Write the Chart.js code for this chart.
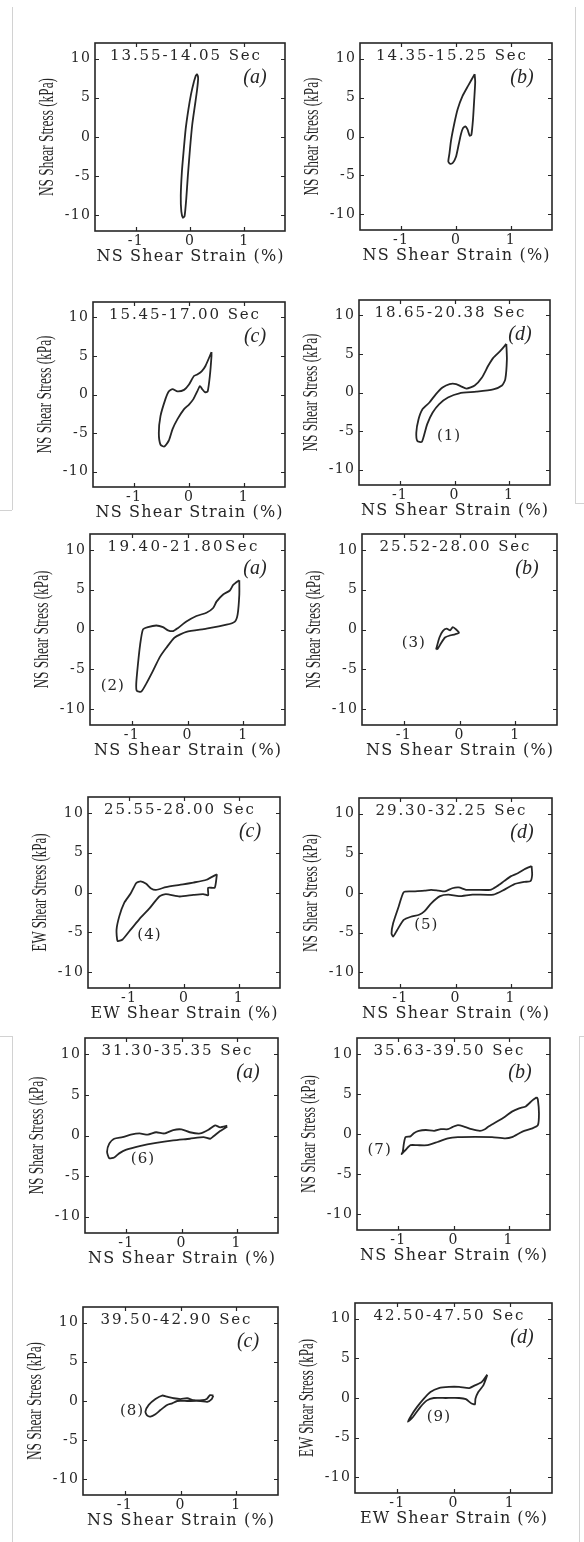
<!DOCTYPE html>
<html><head><meta charset="utf-8">
<script src="https://cdn.jsdelivr.net/npm/chart.js@4.4.1/dist/chart.umd.min.js"></script>
<style>
html,body{margin:0;padding:0;background:#fff;}
#page{position:relative;width:584px;height:1542px;overflow:hidden;background:#fff;}
.rule{position:absolute;background:#d2d2d2;}
</style></head><body><div id="page"></div>
<script>
// ---------------- data (strain %, stress kPa) ----------------
const strain1 = [0.11, 0.07, 0.02, -0.03, -0.08, -0.12, -0.15, -0.17, -0.16, -0.13, -0.10, -0.07, -0.04, 0.00, 0.04, 0.09, 0.13, 0.15, 0.13, 0.11];
const stress1 = [7.9, 7.0, 5.5, 3.5, 1.0, -2.0, -4.5, -7.5, -9.5, -10.3, -10.1, -8.0, -5.0, -1.5, 1.5, 4.0, 6.0, 7.5, 8.0, 7.9];
const strain2 = [0.34, 0.22, 0.12, 0.03, -0.03, -0.09, -0.12, -0.14, -0.11, -0.06, 0.00, 0.05, 0.09, 0.13, 0.17, 0.21, 0.25, 0.28, 0.31, 0.33, 0.35, 0.34];
const stress2 = [8.0, 6.5, 5.2, 3.5, 1.7, -0.5, -2.2, -3.2, -3.5, -3.4, -2.6, -1.0, 0.3, 1.1, 1.3, 0.9, 0.1, 0.2, 2.2, 4.5, 7.0, 8.0];
const strain3 = [0.41, 0.30, 0.23, 0.15, 0.09, 0.00, -0.09, -0.21, -0.30, -0.37, -0.43, -0.52, -0.55, -0.52, -0.45, -0.37, -0.30, -0.21, -0.09, 0.00, 0.08, 0.15, 0.20, 0.24, 0.29, 0.34, 0.38, 0.41, 0.41];
const stress3 = [5.5, 3.7, 3.0, 2.6, 2.4, 1.3, 0.6, 0.4, 0.7, 0.4, -0.6, -2.8, -5.0, -6.5, -6.75, -6.0, -4.5, -3.2, -1.9, -1.3, -0.6, 0.4, 1.1, 0.7, 0.3, 0.4, 2.4, 5.0, 5.5];
const strain4 = [0.95, 0.84, 0.71, 0.62, 0.50, 0.37, 0.22, 0.12, 0.03, -0.09, -0.22, -0.34, -0.46, -0.59, -0.66, -0.70, -0.68, -0.60, -0.56, -0.50, -0.40, -0.28, -0.12, 0.09, 0.40, 0.71, 0.87, 0.93, 0.96, 0.95];
const stress4 = [6.3, 5.4, 4.5, 3.5, 1.9, 0.9, 0.5, 0.8, 1.1, 1.1, 0.65, -0.2, -1.3, -2.2, -3.5, -5.2, -6.3, -6.4, -5.6, -4.1, -2.6, -1.5, -0.65, -0.1, 0.1, 0.4, 0.9, 1.7, 4.3, 6.3];
const strain5 = [0.93, 0.82, 0.76, 0.64, 0.52, 0.46, 0.34, 0.16, -0.02, -0.17, -0.26, -0.35, -0.44, -0.56, -0.71, -0.80, -0.85, -0.89, -0.92, -0.91, -0.83, -0.74, -0.62, -0.50, -0.38, -0.23, -0.02, 0.34, 0.70, 0.85, 0.90, 0.93, 0.93];
const stress5 = [6.2, 5.6, 4.9, 4.4, 3.5, 2.7, 2.1, 1.7, 1.0, 0.2, -0.2, -0.1, 0.3, 0.5, 0.3, 0.0, -1.9, -4.4, -6.8, -7.7, -7.8, -6.8, -5.2, -3.5, -2.3, -1.0, -0.3, 0.1, 0.6, 1.0, 1.9, 4.4, 6.2];
const strain6 = [-0.42, -0.36, -0.30, -0.23, -0.17, -0.12, -0.06, -0.01, -0.08, -0.17, -0.26, -0.33, -0.39, -0.42];
const stress6 = [-2.5, -1.0, -0.2, 0.1, -0.1, 0.3, 0.0, -0.4, -0.6, -0.75, -1.0, -1.7, -2.4, -2.5];
const strain7 = [0.60, 0.41, 0.17, -0.08, -0.33, -0.51, -0.60, -0.69, -0.79, -0.87, -0.97, -1.09, -1.18, -1.23, -1.21, -1.12, -1.00, -0.82, -0.63, -0.45, -0.33, -0.08, 0.17, 0.35, 0.44, 0.44, 0.56, 0.60];
const stress7 = [2.3, 1.6, 1.25, 0.96, 0.67, 0.33, 0.5, 1.1, 1.4, 1.2, -0.1, -1.3, -3.0, -4.7, -6.1, -5.9, -4.9, -3.4, -2.0, -0.5, -0.2, -0.5, -0.3, -0.2, -0.35, 0.6, 0.6, 2.3];
const strain8 = [1.38, 1.25, 1.13, 1.00, 0.88, 0.75, 0.63, 0.38, 0.19, 0.06, -0.06, -0.19, -0.31, -0.44, -0.56, -0.81, -0.94, -1.03, -1.13, -1.16, -1.13, -1.06, -0.94, -0.81, -0.66, -0.56, -0.44, -0.28, -0.13, 0.06, 0.31, 0.69, 0.88, 1.06, 1.25, 1.36, 1.39, 1.38];
const stress8 = [3.4, 3.0, 2.5, 2.1, 1.5, 0.85, 0.4, 0.4, 0.4, 0.7, 0.6, 0.2, 0.3, 0.4, 0.3, 0.2, 0.1, -1.7, -3.8, -5.1, -5.5, -4.7, -3.4, -3.0, -2.75, -2.3, -1.3, -0.4, -0.2, -0.4, -0.2, -0.2, 0.4, 1.1, 1.4, 1.5, 2.3, 3.4];
const strain9 = [0.83, 0.70, 0.61, 0.49, 0.34, 0.15, 0.00, -0.15, -0.31, -0.46, -0.61, -0.76, -0.92, -1.07, -1.22, -1.31, -1.35, -1.31, -1.22, -1.13, -1.00, -0.76, -0.46, -0.15, 0.15, 0.40, 0.52, 0.58, 0.70, 0.83];
const stress9 = [1.2, 1.0, 1.25, 0.7, 0.25, 0.4, 0.75, 0.67, 0.25, 0.4, 0.1, 0.25, 0.1, -0.2, -0.4, -1.0, -2.0, -2.8, -2.7, -2.2, -1.75, -1.3, -0.9, -0.6, -0.4, -0.2, -0.4, -0.1, 0.55, 1.1];
const strain10 = [1.51, 1.43, 1.31, 1.19, 1.06, 0.94, 0.79, 0.63, 0.57, 0.48, 0.33, 0.20, 0.08, -0.01, -0.10, -0.23, -0.35, -0.50, -0.63, -0.72, -0.78, -0.87, -0.90, -0.92, -0.94, -0.87, -0.78, -0.66, -0.47, -0.29, -0.10, 0.08, 0.39, 0.70, 0.94, 1.06, 1.25, 1.43, 1.53, 1.55, 1.53, 1.51];
const stress10 = [4.6, 4.2, 3.45, 3.2, 2.8, 2.2, 1.55, 0.9, 0.6, 0.4, 0.6, 0.9, 1.1, 0.9, 0.6, 0.6, 0.4, 0.5, 0.4, 0.1, -0.3, -0.4, -1.2, -2.2, -2.5, -2.0, -1.4, -1.4, -1.4, -1.0, -0.55, -0.4, -0.35, -0.4, -0.55, -0.4, 0.3, 0.7, 1.1, 2.6, 4.3, 4.6];
const strain11 = [0.59, 0.53, 0.47, 0.39, 0.24, 0.12, 0.00, -0.12, -0.24, -0.33, -0.45, -0.57, -0.63, -0.60, -0.54, -0.45, -0.36, -0.24, -0.15, -0.06, 0.12, 0.36, 0.48, 0.56, 0.59];
const stress11 = [0.7, 0.75, 0.25, 0.1, 0.1, 0.35, 0.25, 0.35, 0.55, 0.7, 0.25, -0.5, -1.35, -1.85, -2.0, -1.7, -1.15, -0.5, -0.3, 0.0, 0.0, 0.0, -0.1, 0.25, 0.7];
const strain12 = [0.60, 0.50, 0.38, 0.28, 0.10, -0.08, -0.26, -0.41, -0.53, -0.65, -0.75, -0.81, -0.72, -0.59, -0.47, -0.35, -0.14, 0.10, 0.22, 0.32, 0.38, 0.39, 0.44, 0.53, 0.60];
const stress12 = [2.95, 2.0, 1.6, 1.25, 1.4, 1.4, 1.25, 0.75, -0.1, -1.15, -2.2, -3.0, -2.4, -1.15, -0.3, 0.0, 0.0, 0.0, -0.15, -0.7, -0.8, -0.1, 0.75, 1.6, 2.9];

const periodTitles = ["13.55-14.05 Sec", "14.35-15.25 Sec", "15.45-17.00 Sec", "18.65-20.38 Sec",
  "19.40-21.80Sec", "25.52-28.00 Sec", "25.55-28.00 Sec", "29.30-32.25 Sec",
  "31.30-35.35 Sec", "35.63-39.50 Sec", "39.50-42.90 Sec", "42.50-47.50 Sec"];
const panelLetters = ["(a)", "(b)", "(c)", "(d)", "(a)", "(b)", "(c)", "(d)", "(a)", "(b)", "(c)", "(d)"];
const directions = ["NS", "NS", "NS", "NS", "NS", "NS", "EW", "NS", "NS", "NS", "NS", "EW"];
const eventLabels = [null, null, null, "(1)", "(2)", "(3)", "(4)", "(5)", "(6)", "(7)", "(8)", "(9)"];
const eventStrain = [0, 0, 0, -0.10, -1.34, -0.82, -0.63, -0.53, -0.70, -1.34, -0.87, -0.26];
const eventStress = [0, 0, 0, -5.7, -7.1, -1.66, -5.3, -4.1, -2.9, -2.0, -1.35, -2.4];
const xTickValues = [-1, 0, 1];
const yTickValues = [-10, -5, 0, 5, 10];

const strains = [strain1, strain2, strain3, strain4, strain5, strain6, strain7, strain8, strain9, strain10, strain11, strain12];
const stresses = [stress1, stress2, stress3, stress4, stress5, stress6, stress7, stress8, stress9, stress10, stress11, stress12];

// ---------------- layout ----------------
const boxes = [
  [95, 43, 285, 231], [360, 43, 552, 230],
  [93, 302, 285, 487], [359, 300, 550, 485],
  [90, 534, 285, 725], [362, 534, 557, 725],
  [88, 797, 280, 988], [359, 798, 552, 988],
  [85, 1038, 278, 1233], [357, 1038, 550, 1230],
  [83, 1307, 278, 1495], [355, 1303, 552, 1493]
];
const PAD_L = 62, PAD_T = 16, PAD_R = 8, PAD_B = 42;
const INK = '#262626', TXT = '#262626';
const page = document.getElementById('page');

[[12,7,1,503],[0,510,12,1],[575,7,1,496],[575,503,9,1],[12,1036,1,506],[0,1036,12,1],[579,1036,1,506],[579,1036,5,1]]
  .forEach(([l,t,w,h]) => { const d = document.createElement('div'); d.className = 'rule';
    d.style.cssText = `left:${l}px;top:${t}px;width:${w}px;height:${h}px`; page.appendChild(d); });

const canSpace = 'letterSpacing' in CanvasRenderingContext2D.prototype;
function spaced(ctx, text, cx, cy, font, target) {
  ctx.font = font;
  if (canSpace) ctx.letterSpacing = '0px';
  const w = ctx.measureText(text).width;
  if (canSpace) {
    const ls = Math.max(0, (target - w) / (text.length - 1));
    ctx.letterSpacing = ls.toFixed(2) + 'px';
    ctx.textAlign = 'left';
    ctx.fillText(text, cx - Math.max(target, w) / 2, cy);
  } else {
    ctx.textAlign = 'center';
    ctx.fillText(text, cx, cy);
  }
}

const panelDecor = {
  id: 'panelDecor',
  beforeDraw(chart) { if (canSpace) chart.ctx.letterSpacing = '1.2px'; },
  afterDraw(chart, args, opts) {
    const i = opts.index;
    const { ctx, chartArea: a, scales: { x, y } } = chart;
    ctx.save();
    ctx.strokeStyle = INK; ctx.lineWidth = 1.6;
    ctx.strokeRect(a.left, a.top, a.right - a.left, a.bottom - a.top);
    ctx.lineWidth = 1.2; ctx.beginPath();
    yTickValues.forEach(v => { const py = Math.round(y.getPixelForValue(v)) + 0.5;
      ctx.moveTo(a.left, py); ctx.lineTo(a.left + 4, py); ctx.moveTo(a.right, py); ctx.lineTo(a.right - 4, py); });
    xTickValues.forEach(v => { const px = Math.round(x.getPixelForValue(v)) + 0.5;
      ctx.moveTo(px, a.bottom); ctx.lineTo(px, a.bottom - 4); ctx.moveTo(px, a.top); ctx.lineTo(px, a.top + 4); });
    ctx.stroke();

    ctx.fillStyle = TXT; ctx.textBaseline = 'middle';
    const cx = (a.left + a.right) / 2;
    spaced(ctx, periodTitles[i], cx - 5, a.top + 13.5, "15px 'DejaVu Serif'", 150);
    if (canSpace) ctx.letterSpacing = '0px';
    ctx.font = "italic 20px 'Liberation Serif'"; ctx.textAlign = 'center';
    ctx.fillText(panelLetters[i], a.right - 30, a.top + 35);
    if (eventLabels[i]) {
      ctx.font = "15px 'DejaVu Serif'"; if (canSpace) ctx.letterSpacing = '1px';
      ctx.fillText(eventLabels[i], x.getPixelForValue(eventStrain[i]), y.getPixelForValue(eventStress[i]));
    }
    spaced(ctx, directions[i] + ' Shear Strain (%)', cx, a.bottom + 26, "16px 'DejaVu Serif'", 187);
    ctx.save();
    if (canSpace) ctx.letterSpacing = '0px';
    ctx.translate(a.left - 48, (a.top + a.bottom) / 2);
    ctx.rotate(-Math.PI / 2);
    const yt = directions[i] + ' Shear Stress (kPa)';
    ctx.font = "21px 'Liberation Serif'";
    const w = ctx.measureText(yt).width;
    ctx.scale(118 / w, 1);
    ctx.textAlign = 'center';
    ctx.fillText(yt, 0, 0);
    ctx.restore();
    ctx.restore();
  }
};

const tickFont = { family: "'DejaVu Serif', serif", size: 14 };
for (let i = 0; i < 12; i++) {
  const [l, t, r, b] = boxes[i];
  const w = r - l + PAD_L + PAD_R, h = b - t + PAD_T + PAD_B;
  const c = document.createElement('canvas');
  c.width = w; c.height = h;
  c.style.cssText = `position:absolute;left:${l - PAD_L}px;top:${t - PAD_T}px;width:${w}px;height:${h}px`;
  page.appendChild(c);
  const pts = strains[i].map((sx, j) => ({ x: sx, y: stresses[i][j] }));
  new Chart(c, {
    type: 'scatter',
    data: { datasets: [{ data: pts, showLine: true, borderColor: INK, borderWidth: 1.8,
      pointRadius: 0, pointHoverRadius: 0, tension: 0.2, fill: false }] },
    options: {
      responsive: false, animation: false, devicePixelRatio: 1,
      layout: { padding: { left: 0, top: PAD_T, right: PAD_R, bottom: 0 } },
      plugins: { legend: { display: false }, tooltip: { enabled: false }, panelDecor: { index: i } },
      scales: {
        x: { type: 'linear', min: -1.75, max: 1.75,
          afterBuildTicks: s => { s.ticks = xTickValues.map(v => ({ value: v })); },
          afterFit: s => { s.height = PAD_B; },
          grid: { display: false, drawTicks: false }, border: { display: false },
          ticks: { padding: 2, color: TXT, font: tickFont, maxRotation: 0, autoSkip: false, callback: v => String(v) } },
        y: { type: 'linear', min: -12, max: 12,
          afterBuildTicks: s => { s.ticks = yTickValues.map(v => ({ value: v })); },
          afterFit: s => { s.width = PAD_L; },
          grid: { display: false, drawTicks: false }, border: { display: false },
          ticks: { padding: 4, color: TXT, font: tickFont, autoSkip: false, callback: v => String(v) } }
      }
    },
    plugins: [panelDecor]
  });
}
</script></body></html>
